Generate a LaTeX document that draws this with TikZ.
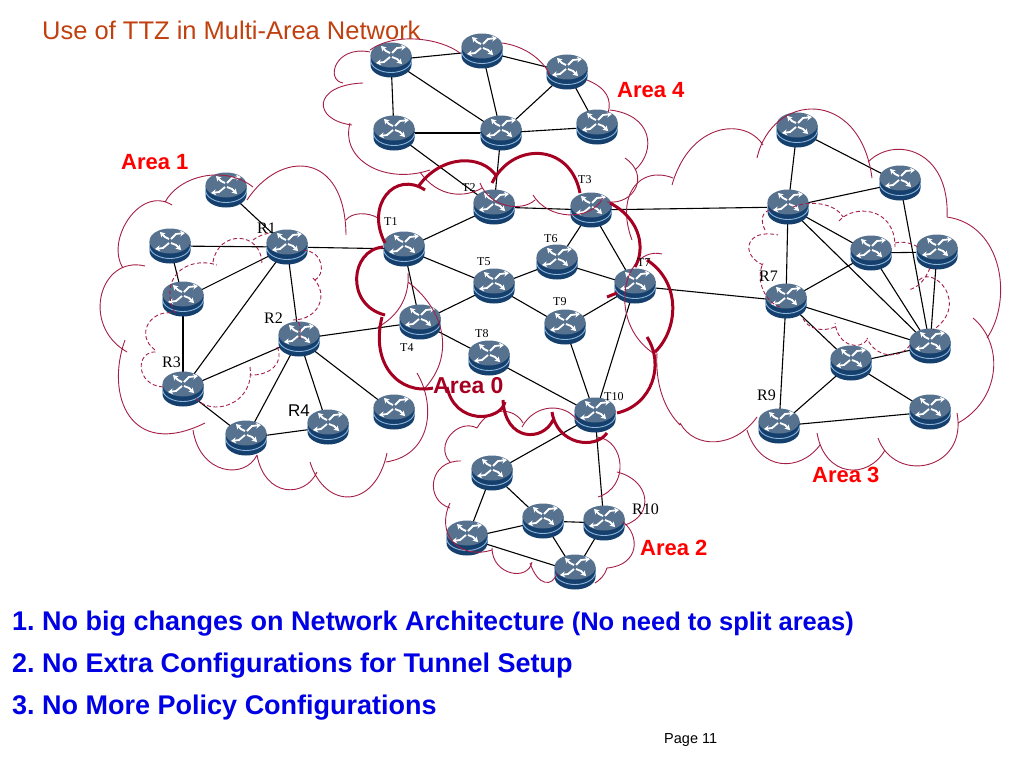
\documentclass[tikz,border=0pt]{standalone}
\usepackage{fontspec}
\setmainfont{Liberation Serif}
\newfontfamily\arialf{Liberation Sans}
\usetikzlibrary{arrows.meta}
\definecolor{cloudred}{HTML}{A31F45}
\definecolor{areazero}{HTML}{A50021}
\definecolor{titlec}{HTML}{C0400F}
\definecolor{rtop}{HTML}{56728F}
\definecolor{rbody}{HTML}{153F6C}
\definecolor{rline}{HTML}{8DB6DE}
\tikzset{
 routernode/.style={rectangle,minimum width=41pt,minimum height=35pt,inner sep=0pt},
 link/.style={black,line width=1.1pt},
 cloudline/.style={cloudred,line width=0.9pt},
 dashcloud/.style={cloudred,line width=0.9pt,dash pattern=on 4pt off 2.5pt},
 thickcloud/.style={areazero,line width=3pt},
 arealabel/.style={font=\arialf\bfseries\fontsize{22}{24}\selectfont,text=red,anchor=base west,inner sep=0pt},
 tlabel/.style={font=\fontsize{12}{14}\selectfont,anchor=base west,inner sep=0pt},
 rlabel/.style={font=\fontsize{16}{18}\selectfont,anchor=base west,inner sep=0pt},
 bullet/.style={font=\arialf\bfseries\fontsize{27}{30}\selectfont\frenchspacing,text=blue!90!black,anchor=base west,inner sep=0pt},
 rarrow/.style={white,line width=1.8pt,-{Stealth[length=5pt,width=6pt]}},
 routericon/.pic={
  \fill[rbody] (-20.5,-5) -- (-20.5,5) arc[start angle=180,end angle=0,x radius=20.5,y radius=12.5] -- (20.5,-5) -- cycle;
  \draw[rline,line width=0.9pt] (-20.5,0) arc[start angle=180,end angle=0,x radius=20.5,y radius=12.5];
  \fill[rtop] (0,-5) ellipse[x radius=20.5,y radius=12.5];
  \draw[rarrow] (-1,-7) -- (-5,-9) -- (-10,-14);
  \draw[rarrow] (1,-7) -- (6,-12) -- (15,-13);
  \draw[rarrow] (-1,-3) -- (-7,2) -- (-15,3);
  \draw[rarrow] (1,-3) -- (6,-1) -- (11,4);
 }
}
\begin{document}
\begin{tikzpicture}[x=1pt,y=-1pt]
\useasboundingbox (0,0) rectangle (1024,768);
% routers (positions)
\foreach \n/\x/\y in {
 Aa/391/60,Ab/482/51,Ac/567/72,Ad/394/133,Ae/501/133,Af/597/127,
 Ba/226/190,Bb/170/246,Bc/183/299,Ra/287/247,Rb/299/339,Rc/183/389,Bd/246/438,Rd/328/427,Be/394/412,
 Ta/404/249,Tb/494/207,Tc/591/210,Td/420/322,Te/494/286,Tf/557/262,Tg/635/286,Th/489/358,Ti/565/327,Tj/595/415,
 Na/797/130,Nb/900/183,Nc/788/207,Nd/871/253,Ne/937/252,Rg/786/301,Ng/930/346,Nh/851/363,Ri/779/426,Nj/930/412,
 Ca/492/473,Cb/467/538,Cc/543/521,Cd/604/523,Ce/575/572}
 {\node[routernode] (\n) at (\x,\y) {};}
% links
\foreach \a/\b in {
 Aa/Ab,Ab/Ac,Aa/Ad,Aa/Ae,Ab/Ae,Ac/Ae,Ac/Af,Ad/Ae,Ae/Af,Ad/Tb,Ae/Tb,
 Ba/Ra,Bb/Ra,Bc/Ra,Rc/Ra,Ra/Rb,Bb/Bc,Bc/Rc,Rc/Rb,Rc/Bd,Bd/Rb,Rb/Rd,Bd/Rd,Rb/Be,Ra/Ta,Rb/Td,
 Ta/Tb,Tb/Tc,Ta/Te,Ta/Td,Td/Te,Td/Th,Te/Tf,Te/Ti,Tf/Tc,Tf/Tg,Tc/Tg,Ti/Tg,Ti/Tj,Th/Tj,Tg/Tj,Tc/Nc,Tg/Rg,Tj/Ca,Tj/Cd,
 Na/Nc,Na/Nb,Nc/Nb,Nc/Rg,Nc/Nd,Nc/Ng,Nb/Ng,Nd/Ne,Nd/Rg,Nd/Ng,Ne/Ng,Rg/Ng,Rg/Nh,Nh/Ng,Nh/Ri,Nh/Nj,Rg/Ri,Ri/Nj,
 Ca/Cb,Ca/Cc,Cb/Cc,Cc/Cd,Cc/Ce,Cd/Ce,Cb/Ce}
 {\draw[link] (\a.center) -- (\b.center);}
% router icons
\foreach \n in {Aa,Ab,Ac,Ad,Ae,Af,Ba,Bb,Bc,Ra,Rb,Rc,Bd,Rd,Be,Ta,Tb,Tc,Td,Te,Tf,Tg,Th,Ti,Tj,Na,Nb,Nc,Nd,Ne,Rg,Ng,Nh,Ri,Nj,Ca,Cb,Cc,Cd,Ce}
 {\pic at (\n) {routericon};}
% Area 1 cloud
\draw[cloudline]
 (165,202) .. controls (180,175) and (225,165) .. (253,187)
 (247,200) .. controls (280,150) and (345,150) .. (346,235)
 (346,220) .. controls (352,212) and (368,212) .. (378,218)
 (172,205) .. controls (140,185) and (105,240) .. (123,268)
 (145,266) .. controls (100,255) and (80,325) .. (127,352)
 (125,340) .. controls (105,395) and (130,460) .. (205,423)
 (193,430) .. controls (200,475) and (245,480) .. (257,455)
 (257,455) .. controls (265,498) and (305,498) .. (317,472)
 (310,462) .. controls (325,510) and (375,510) .. (387,453)
 (386,462) .. controls (432,455) and (436,405) .. (417,373)
 (408,282) .. controls (445,310) and (455,355) .. (425,388)
 (408,273) .. controls (410,300) and (395,318) .. (378,327);
% Area 1 dashed
\draw[dashcloud]
 (213,262) .. controls (218,230) and (262,230) .. (262,265)
 (253,240) .. controls (258,236) and (264,234) .. (270,233)
 (303,250) .. controls (325,252) and (325,275) .. (315,280)
 (313,278) .. controls (330,295) and (318,320) .. (293,320)
 (293,320) .. controls (298,318) and (301,322) .. (300,340)
 (277,347) .. controls (285,362) and (270,376) .. (250,375)
 (250,367) .. controls (255,405) and (210,418) .. (195,397)
 (163,387) .. controls (135,385) and (135,350) .. (157,352)
 (155,350) .. controls (135,335) and (150,310) .. (172,313)
 (175,313) .. controls (158,280) and (185,255) .. (217,265);
% Area 4 cloud
\draw[cloudline]
 (370,52) .. controls (335,45) and (325,80) .. (343,83)
 (370,50) .. controls (395,32) and (440,38) .. (460,53)
 (502,43) .. controls (525,46) and (543,60) .. (550,75)
 (587,80) .. controls (607,88) and (612,100) .. (608,113)
 (610,110) .. controls (652,115) and (657,150) .. (635,170)
 (625,158) .. controls (650,175) and (635,205) .. (607,202)
 (533,195) .. controls (548,220) and (590,222) .. (603,198)
 (535,200) .. controls (522,212) and (490,208) .. (480,183)
 (420,172) .. controls (438,198) and (465,198) .. (482,188)
 (430,170) .. controls (385,185) and (340,160) .. (350,123)
 (352,125) .. controls (312,120) and (312,85) .. (363,83);
% Area 3 cloud
\draw[cloudline]
 (757,158) .. controls (772,92) and (860,87) .. (872,178)
 (868,162) .. controls (895,135) and (950,150) .. (947,217)
 (947,217) .. controls (1003,225) and (1013,300) .. (987,338)
 (973,318) .. controls (1005,345) and (1000,400) .. (958,423)
 (957,413) .. controls (968,470) and (895,485) .. (878,438)
 (885,450) .. controls (868,480) and (825,478) .. (817,433)
 (820,445) .. controls (800,472) and (760,472) .. (747,430)
 (757,417) .. controls (735,448) and (695,450) .. (680,423)
 (657,353) .. controls (655,385) and (665,410) .. (680,425)
 (662,254) .. controls (625,245) and (605,320) .. (653,353)
 (632,240) .. controls (615,195) and (640,165) .. (673,178)
 (672,185) .. controls (690,122) and (745,117) .. (763,145);
% Area 3 dashed
\draw[dashcloud]
 (793,207) .. controls (810,200) and (835,203) .. (843,217)
 (839,221) .. controls (852,205) and (895,205) .. (895,247)
 (895,243) .. controls (903,241) and (911,243) .. (918,247)
 (930,268) .. controls (925,280) and (918,288) .. (908,290)
 (919,280) .. controls (935,265) and (970,305) .. (933,330)
 (910,345) .. controls (900,360) and (875,358) .. (867,338)
 (867,340) .. controls (860,350) and (838,347) .. (835,323)
 (835,327) .. controls (823,332) and (808,330) .. (802,317)
 (780,307) .. controls (765,302) and (755,280) .. (763,263)
 (763,265) .. controls (740,255) and (745,228) .. (778,235)
 (765,230) .. controls (760,220) and (762,212) .. (770,210);
% Area 2 cloud
\draw[cloudline]
 (477,428) .. controls (458,418) and (434,445) .. (450,462)
 (461,461) .. controls (429,460) and (424,500) .. (450,508)
 (450,503) .. controls (435,535) and (460,560) .. (492,550)
 (492,548) .. controls (492,575) and (528,582) .. (532,562)
 (530,563) .. controls (538,587) and (553,587) .. (557,573)
 (595,583) .. controls (600,580) and (605,575) .. (607,568)
 (607,568) .. controls (640,565) and (640,535) .. (623,522)
 (625,525) .. controls (655,515) and (650,480) .. (617,472)
 (598,497) .. controls (630,487) and (625,440) .. (597,437)
 (477,428) .. controls (490,405) and (515,408) .. (523,423)
 (522,427) .. controls (535,403) and (565,403) .. (577,420);
% Area 0 cloud
\draw[thickcloud]
 (425,190) .. controls (395,170) and (365,205) .. (385,243)
 (418,187) .. controls (440,155) and (482,153) .. (497,177)
 (492,183) .. controls (512,142) and (570,142) .. (580,193)
 (610,203) .. controls (642,220) and (645,250) .. (635,267)
 (647,260) .. controls (682,283) and (678,330) .. (655,352)
 (647,337) .. controls (665,365) and (652,405) .. (617,413)
 (552,412) .. controls (557,445) and (595,450) .. (607,433)
 (553,420) .. controls (543,442) and (505,442) .. (503,400)
 (505,402) .. controls (500,422) and (455,425) .. (447,387)
 (433,388) .. controls (400,395) and (370,365) .. (382,317)
 (385,315) .. controls (345,305) and (350,250) .. (383,247)
 (607,297) -- (617,293);
% Texts
\node[anchor=base west,inner sep=0pt,font=\arialf\fontsize{25.5}{28}\selectfont,text=titlec] (title) at (42,40) {Use of TTZ in Multi-Area Network};
\node[arealabel] (l1) at (121,169) {Area 1};
\node[arealabel] (l4) at (617,97) {Area 4};
\node[arealabel] (l3) at (812,482) {Area 3};
\node[arealabel] (l2) at (640,555) {Area 2};
\node[arealabel,text=areazero,font=\arialf\bfseries\fontsize{23}{26}\selectfont] (l0) at (433,393) {Area 0};
\node[tlabel] (t1) at (384,225) {T1};
\node[tlabel] (t2) at (462,191) {T2};
\node[tlabel] (t3) at (578,183) {T3};
\node[tlabel] (t4) at (400,351) {T4};
\node[tlabel] (t5) at (477,265) {T5};
\node[tlabel] (t6) at (544,242) {T6};
\node[tlabel] (t7) at (637,266) {T7};
\node[tlabel] (t8) at (475,337) {T8};
\node[tlabel] (t9) at (553,305) {T9};
\node[tlabel] (t10) at (604,400) {T10};
\node[rlabel] (r1) at (257,233) {R1};
\node[rlabel] (r2) at (264,323) {R2};
\node[rlabel] (r3) at (162,367) {R3};
\node[rlabel,font=\arialf\fontsize{17}{18}\selectfont] (r4) at (288,416) {R4};
\node[rlabel] (r7) at (759,281) {R7};
\node[rlabel] (r9) at (757,400) {R9};
\node[rlabel] (r10) at (632,514) {R10};
\node[bullet] (b1) at (12,630) {1. No big changes on Network Architecture {\fontsize{25.5}{28}\selectfont (No need to split areas)}};
\node[bullet] (b2) at (12,672) {2. No Extra Configurations for Tunnel Setup};
\node[bullet] (b3) at (12,714) {3. No More Policy Configurations};
\node[anchor=base west,inner sep=0pt,font=\arialf\fontsize{14.5}{16}\selectfont] (pg) at (664,743) {Page 11};
\end{tikzpicture}
\end{document}
